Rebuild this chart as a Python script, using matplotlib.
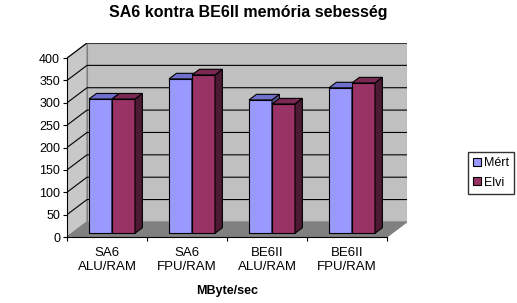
import matplotlib.pyplot as plt
from matplotlib.patches import Polygon, Patch
import numpy as np

plt.rcParams["font.family"] = ["Liberation Sans", "DejaVu Sans"]

# adatok
categories = ["SA6\nALU/RAM", "SA6\nFPU/RAM", "BE6II\nALU/RAM", "BE6II\nFPU/RAM"]
series_names = ["Mért", "Elvi"]
mert = [300, 345, 298, 325]
elvi = [300, 354, 289, 336]
yticks = np.arange(0, 401, 50)

front_col = ["#9999ff", "#993366"]
top_col = ["#7070cc", "#7a2952"]
side_col = ["#5c5c99", "#4d1a33"]

W, H = 517, 303
fig = plt.figure(figsize=(W / 100, H / 100), dpi=100)
fig.patch.set_facecolor("white")

DX, DY = 0.25, 33.7  # melyseg (kategoria egyseg, ertek egyseg)
ymax = yticks[-1]
n = len(categories)

ax = fig.add_axes([67 / W, (H - 237) / H, (80 * n + 20) / W, 194 / H])
ax.set_xlim(0, n + DX)
ax.set_ylim(0, ymax + DY)
ax.set_facecolor("none")

# falak es padlo
ax.add_patch(Polygon([(DX, DY), (n + DX, DY), (n + DX, ymax + DY), (DX, ymax + DY)],
                     fc="#c0c0c0", ec="#808080", lw=0.8, zorder=0))
ax.add_patch(Polygon([(0, 0), (DX, DY), (DX, ymax + DY), (0, ymax)],
                     fc="#c8c8c8", ec="#808080", lw=0.8, zorder=0))
ax.add_patch(Polygon([(0, 0), (n, 0), (n + DX, DY), (DX, DY)],
                     fc="#808080", ec="#808080", lw=0.8, zorder=0))

# racsvonalak
for v in yticks[1:]:
    ax.plot([0, DX, n + DX], [v, v + DY, v + DY], color="black", lw=0.8, zorder=1)

# oszlopok
bw = 0.2875
f = 0.25   # oszlop eleje a melysegben
bd = 0.37  # oszlop melysege
for i in range(n):
    for j, vals in enumerate([mert, elvi]):
        x0 = i + 0.5 - bw + j * bw + f * DX
        y0 = f * DY
        h = vals[i]
        ax.bar(x0, h, width=bw, bottom=y0, align="edge", color=front_col[j],
               edgecolor="black", lw=0.8, zorder=2 + i * 2 + j)
        ax.add_patch(Polygon([(x0 + bw, y0), (x0 + bw + bd * DX, y0 + bd * DY),
                              (x0 + bw + bd * DX, y0 + h + bd * DY), (x0 + bw, y0 + h)],
                             fc=side_col[j], ec="black", lw=0.8, zorder=2 + i * 2 + j))
        ax.add_patch(Polygon([(x0, y0 + h), (x0 + bw, y0 + h),
                              (x0 + bw + bd * DX, y0 + h + bd * DY), (x0 + bd * DX, y0 + h + bd * DY)],
                             fc=top_col[j], ec="black", lw=0.8, zorder=2 + i * 2 + j))

# tengelyek
for s in ["top", "right"]:
    ax.spines[s].set_visible(False)
ax.spines["left"].set_bounds(0, ymax)
ax.spines["bottom"].set_bounds(0, n)
ax.spines["left"].set_zorder(20)
ax.spines["bottom"].set_zorder(20)
ax.set_yticks(yticks)
ax.set_yticklabels([str(v) for v in yticks], fontsize=9)
ax.set_xticks(np.arange(n + 1))
ax.set_xticklabels([])
ax.set_xticks(np.arange(n) + 0.5, minor=True)
ax.set_xticklabels(categories, minor=True, fontsize=9.5, linespacing=1.25)
ax.tick_params(axis="both", which="major", direction="out", length=3, width=0.8)
ax.tick_params(axis="x", which="minor", length=0, pad=7)
ax.tick_params(axis="y", pad=2)

fig.text(0.48, 1 - 13 / H, "SA6 kontra BE6II memória sebesség",
         ha="center", va="center", fontsize=11.5, fontweight="bold")
fig.text(227 / W, 1 - 291 / H, "MByte/sec", ha="center", va="center",
         fontsize=9, fontweight="bold")

handles = [Patch(fc=front_col[k], ec="black", lw=0.8, label=series_names[k]) for k in range(2)]
fig.legend(handles=handles, loc="upper left", bbox_to_anchor=(468 / W, 1 - 152 / H),
           fontsize=9, frameon=True, fancybox=False, edgecolor="black",
           handlelength=0.6, handleheight=0.6, handletextpad=0.3,
           borderpad=0.4, labelspacing=0.6, borderaxespad=0)

fig.savefig("out.png", dpi=100)
